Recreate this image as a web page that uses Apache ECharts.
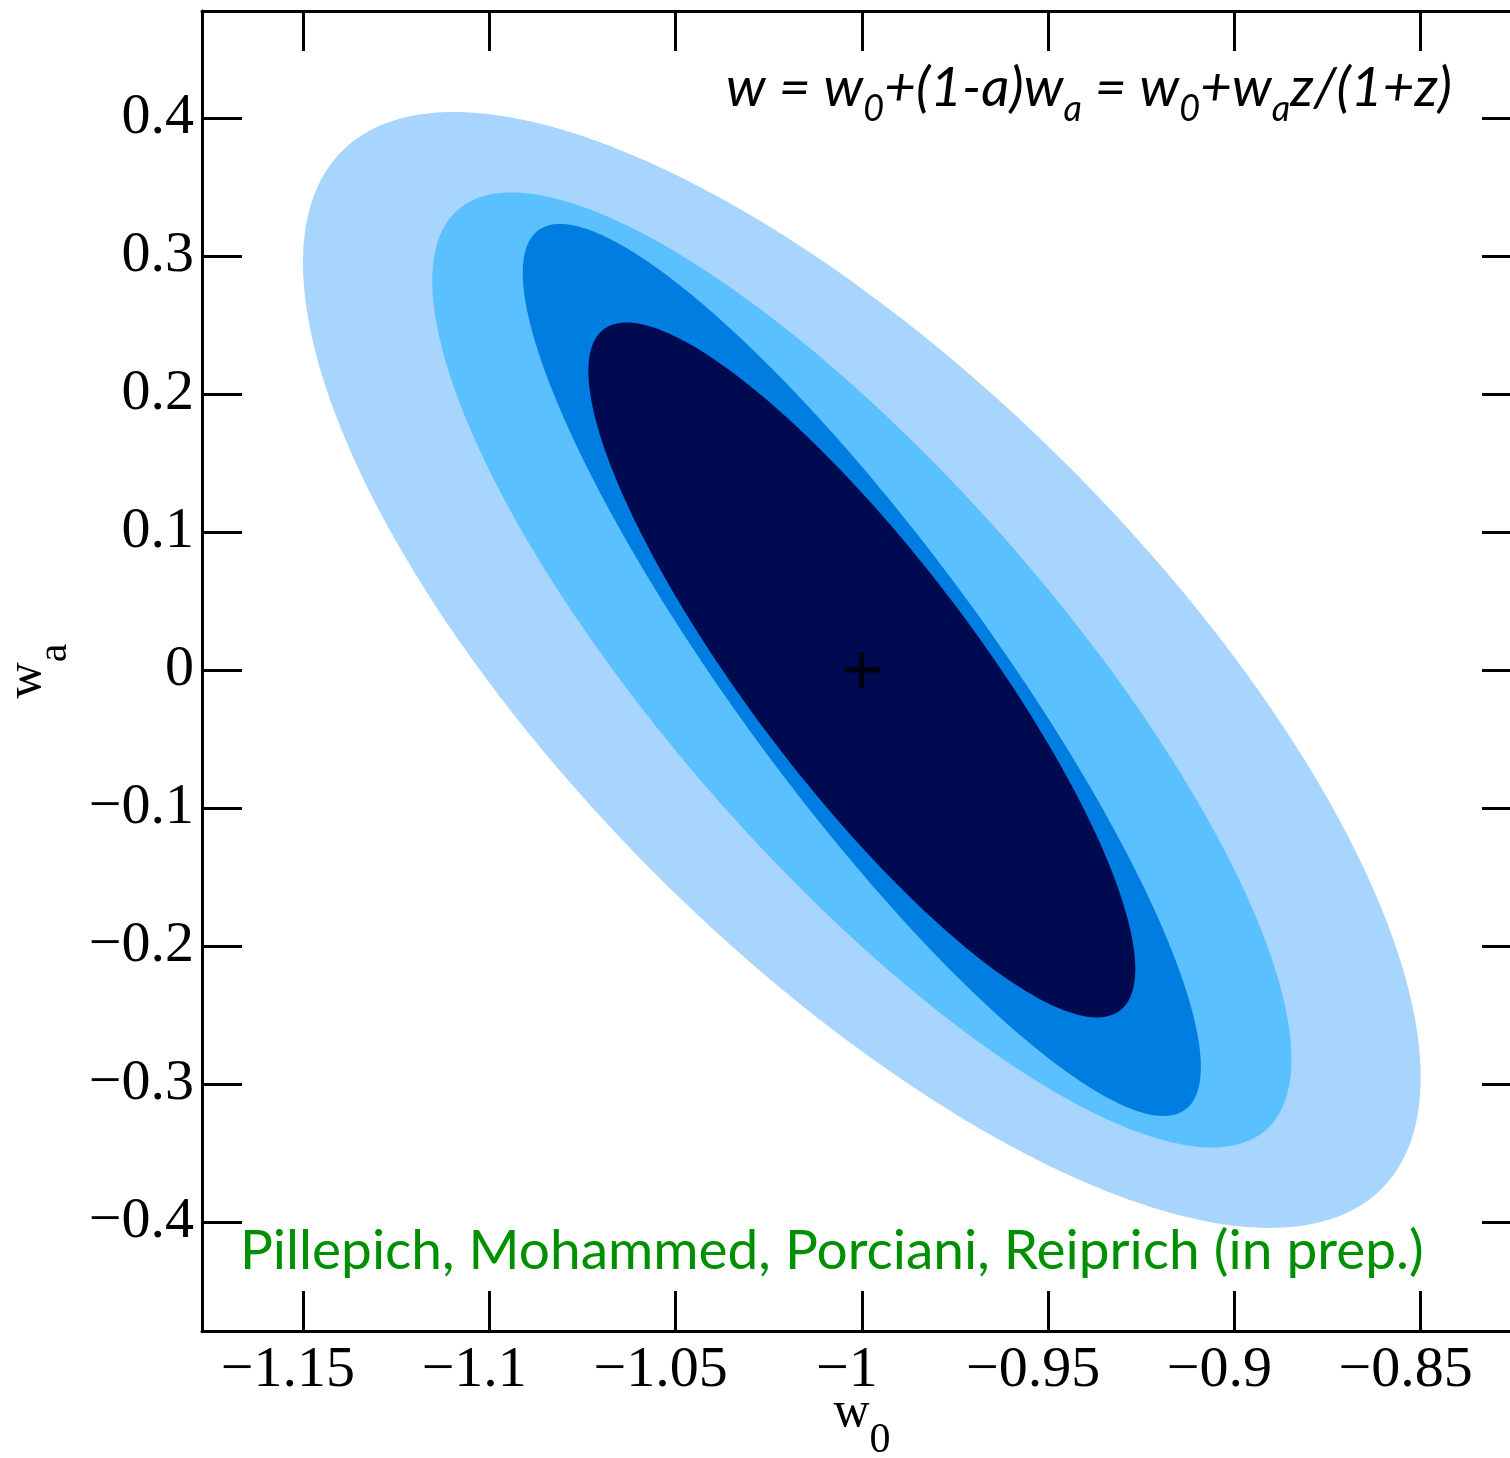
<!DOCTYPE html>
<html>
<head>
<meta charset="utf-8">
<title>w0 - wa contours</title>
<script src="https://cdn.jsdelivr.net/npm/echarts@6.0.0/dist/echarts.min.js"></script>
<style>
  html, body { margin: 0; padding: 0; background: #fff; }
  #chart { width: 1510px; height: 1458px; }
</style>
</head>
<body>
<div id="chart"></div>
<script>
// contour levels, drawn outermost first
var centerW0 = [-1, -1, -1, -1];
var centerWa = [0, 0, 0, 0];
var halfWidthW0 = [0.1500, 0.1153, 0.0910, 0.0734];
var halfHeightWa = [0.4043, 0.3460, 0.3232, 0.2518];
var correlation = [-0.73, -0.815, -0.89, -0.86];
var fiducial = [[-1, 0]];

var xTicks = [-1.15, -1.1, -1.05, -1, -0.95, -0.9, -0.85];
var yTicks = [-0.4, -0.3, -0.2, -0.1, 0, 0.1, 0.2, 0.3, 0.4];
var xRange = [-1.1771, -0.8228];
var yRange = [-0.479, 0.4775];

var fills = ['#a7d5fd', '#5bc0fe', '#007de1', '#000a50'];

var ellipses = centerW0.map(function (c, i) {
  return [c, centerWa[i], halfWidthW0[i], halfHeightWa[i], correlation[i]];
});

function minusLabel(v) {
  return String(v).replace('-', '\u2212');
}

// closed contour from the extents and the tilt of each level
function renderEllipse(params, api) {
  var cx = api.value(0), cy = api.value(1);
  var hx = api.value(2), hy = api.value(3);
  var phi = Math.acos(api.value(4));
  var pts = [];
  for (var k = 0; k < 240; k++) {
    var t = k / 240 * 2 * Math.PI;
    pts.push(api.coord([cx + hx * Math.cos(t), cy + hy * Math.cos(t + phi)]));
  }
  return {
    type: 'polygon',
    shape: { points: pts },
    style: { fill: fills[params.dataIndex] }
  };
}

var serif = '"Liberation Serif", "DejaVu Serif", serif';
var lineStyle = { color: '#000', width: 3 };

var nameRich = {
  m: { fontFamily: serif, fontSize: 50, lineHeight: 50, verticalAlign: 'top', color: '#000' },
  s: { fontFamily: serif, fontSize: 42, lineHeight: 42, verticalAlign: 'top', color: '#000', padding: [32, 0, 0, 0] }
};

function xAxisFor(pos) {
  var main = pos === 'bottom';
  return {
    type: 'value',
    position: pos,
    min: xRange[0],
    max: xRange[1],
    axisLine: { show: true, onZero: false, lineStyle: lineStyle },
    axisTick: { show: true, inside: true, length: 40, lineStyle: lineStyle, customValues: xTicks },
    axisLabel: {
      show: main, customValues: xTicks, formatter: minusLabel, margin: 11,
      padding: [0, 30, 0, 0],
      fontFamily: serif, fontSize: 58, color: '#000'
    },
    splitLine: { show: false },
    name: main ? '{m|w}{s|0}' : '',
    nameLocation: 'middle',
    nameGap: 57,
    nameMoveOverlap: false,
    nameTextStyle: { rich: nameRich }
  };
}

function yAxisFor(pos) {
  var main = pos === 'left';
  return {
    type: 'value',
    position: pos,
    min: yRange[0],
    max: yRange[1],
    axisLine: { show: true, onZero: false, lineStyle: lineStyle },
    axisTick: { show: true, inside: true, length: 40, lineStyle: lineStyle, customValues: yTicks },
    axisLabel: {
      show: main, customValues: yTicks, formatter: minusLabel, margin: 8,
      fontFamily: serif, fontSize: 58, color: '#000'
    },
    splitLine: { show: false },
    name: main ? '{m|w}{s|a}' : '',
    nameLocation: 'middle',
    nameGap: 150,
    nameMoveOverlap: false,
    nameTextStyle: { rich: nameRich }
  };
}

var chart = echarts.init(document.getElementById('chart'), null, { renderer: 'canvas' });

chart.setOption({
  animation: false,
  backgroundColor: '#fff',
  grid: { left: 202, top: 11, width: 1320, height: 1320, outerBoundsMode: 'none', containLabel: false },
  xAxis: [xAxisFor('bottom'), xAxisFor('top')],
  yAxis: [yAxisFor('left'), yAxisFor('right')],
  series: [
    {
      type: 'custom',
      xAxisIndex: 0,
      yAxisIndex: 0,
      silent: true,
      clip: true,
      encode: { x: 0, y: 1 },
      data: ellipses,
      renderItem: renderEllipse
    },
    {
      type: 'scatter',
      xAxisIndex: 0,
      yAxisIndex: 0,
      silent: true,
      data: fiducial,
      symbol: 'path://M5,0L5,10M0,5L10,5',
      symbolSize: 36,
      itemStyle: { color: 'transparent', borderColor: '#000', borderWidth: 5 }
    }
  ],
  graphic: [
    {
      type: 'text',
      right: 58,
      top: 61,
      silent: true,
      style: {
        text: '{i|w = w}{s|0}{i|+(1-a)w}{s|a}{i| = w}{s|0}{i|+w}{s|a}{i|z/(1+z)}',
        rich: {
          i: { fontFamily: 'Lato', fontStyle: 'italic', fontSize: 55, lineHeight: 55, verticalAlign: 'top', fill: '#000' },
          s: { fontFamily: 'Lato', fontStyle: 'italic', fontSize: 36, lineHeight: 36, verticalAlign: 'top', fill: '#000', padding: [30, 0, 0, 0] }
        }
      }
    },
    {
      type: 'text',
      left: 240,
      top: 1224,
      silent: true,
      style: {
        text: '{g|Pillepich, Mohammed, Porciani, Reiprich (in prep.)}',
        rich: {
          g: { fontFamily: 'Lato', fontSize: 55, lineHeight: 55, verticalAlign: 'top', fill: '#008f00' }
        }
      }
    }
  ]
});
</script>
</body>
</html>
